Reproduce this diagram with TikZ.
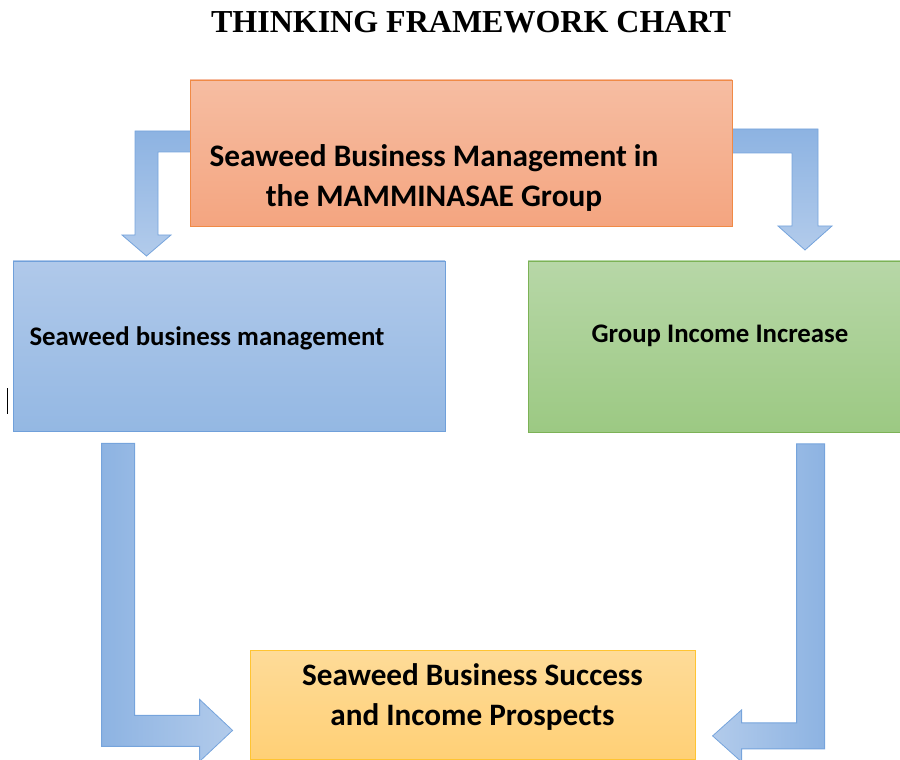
\documentclass[tikz,border=0pt]{standalone}
\usepackage{fontspec}
\setmainfont{Carlito}
\newfontfamily\titlefont{Liberation Serif}
\usetikzlibrary{calc}

\definecolor{arrowdark}{RGB}{141,179,226}
\definecolor{arrowlight}{RGB}{178,203,235}
\definecolor{arrowline}{RGB}{118,164,220}

\begin{document}
\begin{tikzpicture}[x=1pt,y=1pt,
        box/.style={draw,line width=0.8pt,minimum width=#1,anchor=center,inner sep=0pt},
        bentarrow/.style={draw=arrowline,line width=0.8pt,line join=miter},
        lbl/.style={font=\fontsize{#1}{40}\selectfont\bfseries,align=center,inner sep=0pt}]

  \useasboundingbox (0,0) rectangle (900,760);

  \node[font=\titlefont\fontsize{32}{36}\selectfont\bfseries] (title) at (471,737.5) {THINKING FRAMEWORK CHART};

  \coordinate (c_top) at (461,607);

  % boxes
  \node[box=432pt,minimum height=170pt,draw={rgb,255:red,112;green,160;blue,218},
        top color={rgb,255:red,176;green,201;blue,234},bottom color={rgb,255:red,148;green,184;blue,227}]
        (bizmgmt) at (229,414) {};
  \node[box=372pt,minimum height=171pt,draw={rgb,255:red,124;green,178;blue,86},
        top color={rgb,255:red,183;green,215;blue,167},bottom color={rgb,255:red,156;green,201;blue,131}]
        (income) at (714,413.5) {};
  \node[box=445pt,minimum height=109pt,draw={rgb,255:red,255;green,196;blue,50},
        top color={rgb,255:red,254;green,219;blue,152},bottom color={rgb,255:red,255;green,208;blue,118}]
        (success) at (472.5,55) {};

  % arrows, the top two start under the top box
  \path[bentarrow,shade,top color=arrowdark,bottom color=arrowlight]
    ($(c_top)+(-266,22)$) -- ++(-60,0) -- ++(0,-104) -- ++(-13,0) -- ++(24.5,-21)
    -- ++(24.5,21) -- ++(-13,0) -- ++(0,83) -- ++(37,0) -- cycle;
  \path[bentarrow,shade,top color=arrowdark,bottom color=arrowlight]
    ($(c_top)+(266,24)$) -- ++(91,0) -- ++(0,-97) -- ++(14,0) -- ++(-27,-24)
    -- ++(-27,24) -- ++(14,0) -- ++(0,73) -- ++(-65,0) -- cycle;
  \path[bentarrow,shade,left color=arrowdark,right color=arrowlight]
    ($(bizmgmt.south west)+(89,-12)$) -- ++(0,-303) -- ++(98,0) -- ++(0,-15) -- ++(33,31)
    -- ++(-33,31) -- ++(0,-16) -- ++(-65,0) -- ++(0,272) -- cycle;
  \path[bentarrow,shade,left color=arrowlight,right color=arrowdark]
    ($(income.south west)+(297,-11.5)$) -- ++(0,-305) -- ++(-83,0) -- ++(0,-13) -- ++(-29,26)
    -- ++(29,26) -- ++(0,-13) -- ++(55,0) -- ++(0,279) -- cycle;

  \node[box=542pt,minimum height=146pt,draw={rgb,255:red,240;green,138;blue,70},
        top color={rgb,255:red,246;green,189;blue,162},bottom color={rgb,255:red,244;green,165;blue,128}]
        (mgmt) at (c_top) {};

  % labels
  \node[lbl=31.3] (mgmt_txt) at ($(mgmt.center)+(-27,-25)$) {Seaweed Business Management in\\the MAMMINASAE Group};
  \node[lbl=26.8] (bizmgmt_txt) at ($(bizmgmt.center)+(-22,8)$) {Seaweed business management};
  \node[lbl=26.8] (income_txt) at ($(income.center)+(6,10.5)$) {Group Income Increase};
  \node[lbl=31.2] (success_txt) at ($(success.center)+(0,8)$) {Seaweed Business Success\\and Income Prospects};

  \draw[line width=1pt] (7,346) -- (7,372);

\end{tikzpicture}
\end{document}
